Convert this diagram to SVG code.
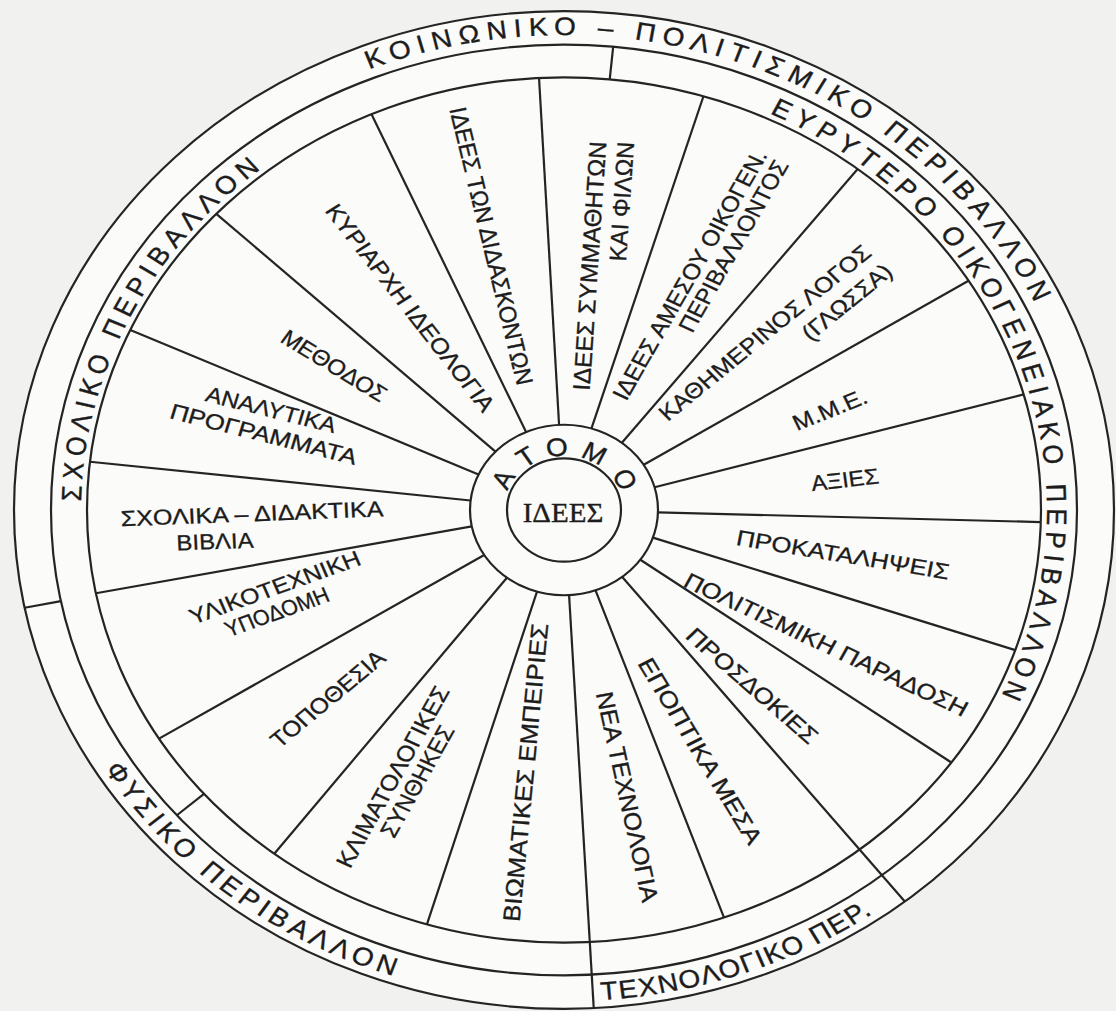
<svg xmlns="http://www.w3.org/2000/svg" width="1116" height="1011" viewBox="0 0 1116 1011">
<style>
.ln{stroke:#242424;stroke-width:2.2;fill:none;vector-effect:non-scaling-stroke}
.lb{font-family:"Liberation Sans",Arial,sans-serif;font-size:24px;fill:#1c1c1c;stroke:#1c1c1c;stroke-width:0.35;text-anchor:middle}
.rg{font-family:"Liberation Sans",Arial,sans-serif;font-size:28px;fill:#1c1c1c;stroke:#1c1c1c;stroke-width:0.4;text-anchor:middle}
</style>
<defs>
<path id="pOuterTop" d="M -392.1 -346.9 A 523.5 523.5 0 0 1 523.3 13.7"/>
<path id="pMidLeft" d="M -402.8 266.6 A 483 483 0 0 1 -29.5 -482.1"/>
<path id="pMidRight" d="M 4.2 -483 A 483 483 0 0 1 307.2 372.7"/>
<path id="pBotLeft" d="M -529.6 112.6 A 541.5 541.5 0 0 0 18.9 541.2"/>
<path id="pBotRight" d="M -99.6 532.3 A 541.5 541.5 0 0 0 411.2 352.4"/>
</defs>
<rect width="1116" height="1011" fill="#f1f1ef"/>
<g transform="translate(564,510) scale(1,0.907)">
  <g id="rings">
    <circle class="ln" r="550" style="fill:#fbfbfa"/>
    <circle class="ln" r="513"/>
    <circle class="ln" r="477"/>
  </g>
  <g id="connectors">
    <line class="ln" x1="-4.92" y1="-93.87" x2="-24.97" y2="-476.35"/>
    <line class="ln" x1="27.48" y1="-89.89" x2="139.46" y2="-456.16"/>
    <line class="ln" x1="57.87" y1="-74.07" x2="293.67" y2="-375.88"/>
    <line class="ln" x1="79.72" y1="-49.81" x2="404.52" y2="-252.77"/>
    <line class="ln" x1="90.58" y1="-25.12" x2="459.65" y2="-127.47"/>
    <line class="ln" x1="93.96" y1="2.62" x2="476.81" y2="13.32"/>
    <line class="ln" x1="88.93" y1="30.45" x2="451.28" y2="154.51"/>
    <line class="ln" x1="76.34" y1="54.85" x2="387.36" y2="278.35"/>
    <line class="ln" x1="58.25" y1="73.78" x2="340.82" y2="431.67"/>
    <line class="ln" x1="31.53" y1="88.55" x2="160.01" y2="449.36"/>
    <line class="ln" x1="5.08" y1="93.86" x2="29.74" y2="549.2"/>
    <line class="ln" x1="-27.01" y1="90.04" x2="-137.07" y2="456.88"/>
    <line class="ln" x1="-57.09" y1="74.67" x2="-289.72" y2="378.93"/>
    <line class="ln" x1="-79.8" y1="49.67" x2="-404.96" y2="252.07"/>
    <line class="ln" x1="-92.24" y1="18.1" x2="-468.08" y2="91.83"/>
    <line class="ln" x1="-93.41" y1="-10.48" x2="-474.03" y2="-53.17"/>
    <line class="ln" x1="-85.47" y1="-39.13" x2="-433.71" y2="-198.57"/>
    <line class="ln" x1="-68.52" y1="-64.35" x2="-347.72" y2="-326.53"/>
    <line class="ln" x1="-37.93" y1="-86.01" x2="-192.49" y2="-436.44"/>
    <line class="ln" x1="-503.05" y1="100.52" x2="-539.34" y2="107.77"/>
    <line class="ln" x1="-360" y1="312.94" x2="-387.17" y2="336.56"/>
    <line class="ln" x1="45.72" y1="-474.8" x2="49.17" y2="-510.64"/>
  </g>
  <g id="ring-labels">
    <g id="koinoniko"><text class="rg" letter-spacing="6.9"><textPath href="#pOuterTop" startOffset="50%">ΚΟΙΝΩΝΙΚΟ – ΠΟΛΙΤΙΣΜΙΚΟ ΠΕΡΙΒΑΛΛΟΝ</textPath></text></g>
    <g id="scholiko"><text class="rg" letter-spacing="6.4"><textPath href="#pMidLeft" startOffset="50%">ΣΧΟΛΙΚΟ ΠΕΡΙΒΑΛΛΟΝ</textPath></text></g>
    <g id="evrytero"><text class="rg" letter-spacing="6.5"><textPath href="#pMidRight" startOffset="50%">ΕΥΡΥΤΕΡΟ ΟΙΚΟΓΕΝΕΙΑΚΟ ΠΕΡΙΒΑΛΛΟΝ</textPath></text></g>
    <g id="fysiko"><text class="rg" letter-spacing="5.1"><textPath href="#pBotLeft" startOffset="50%">ΦΥΣΙΚΟ ΠΕΡΙΒΑΛΛΟΝ</textPath></text></g>
    <g id="technologiko"><text class="rg" font-size="27" letter-spacing="1.5"><textPath href="#pBotRight" startOffset="50%">ΤΕΧΝΟΛΟΓΙΚΟ ΠΕΡ.</textPath></text></g>
  </g>
  <g id="center">
    <circle class="ln" r="94" style="fill:#fbfbfa"/>
    <circle class="ln" r="57"/>
    <g id="atomo">
      <text class="rg" font-size="25" transform="translate(-60.3,-33.5) rotate(299)" y="9">Α</text>
      <text class="rg" font-size="25" transform="translate(-37.6,-57.9) rotate(327)" y="9">Τ</text>
      <text class="rg" font-size="25" transform="translate(-7.2,-68.6) rotate(354)" y="9">Ο</text>
      <text class="rg" font-size="25" transform="translate(30.2,-62) rotate(26)" y="9">Μ</text>
      <text class="rg" font-size="25" transform="translate(60.3,-33.5) rotate(61)" y="9">Ο</text>
    </g>
    <text x="-1" y="13" font-family="'Liberation Serif','Times New Roman',serif" font-size="29" fill="#1c1c1c" stroke="#1c1c1c" stroke-width="0.4" text-anchor="middle">ΙΔΕΕΣ</text>
  </g>
  <g id="sector-labels">
    <g id="s-symmathites"><text class="lb" transform="translate(26,-269) rotate(-86.5)" y="8" textLength="275" lengthAdjust="spacingAndGlyphs">ΙΔΕΕΣ ΣΥΜΜΑΘΗΤΩΝ</text><text class="lb" transform="translate(58,-340) rotate(-86.5)" y="8" textLength="132" lengthAdjust="spacingAndGlyphs">ΚΑΙ ΦΙΛΩΝ</text></g>
    <g id="s-amesou"><text class="lb" transform="translate(126,-259.1) rotate(-62.5)" y="8" textLength="307" lengthAdjust="spacingAndGlyphs">ΙΔΕΕΣ ΑΜΕΣΟΥ ΟΙΚΟΓΕΝ.</text><text class="lb" transform="translate(169.7,-291) rotate(-62.5)" y="8" textLength="210" lengthAdjust="spacingAndGlyphs">ΠΕΡΙΒΑΛΛΟΝΤΟΣ</text></g>
    <g id="s-kathimerinos"><text class="lb" transform="translate(201,-195.2) rotate(-42)" y="8" textLength="276" lengthAdjust="spacingAndGlyphs">ΚΑΘΗΜΕΡΙΝΟΣ ΛΟΓΟΣ</text><text class="lb" transform="translate(283,-229) rotate(-42)" y="8" textLength="112" lengthAdjust="spacingAndGlyphs">(ΓΛΩΣΣΑ)</text></g>
    <g id="s-mme"><text class="lb" transform="translate(266,-110.3) rotate(-23.8)" y="8" textLength="79" lengthAdjust="spacingAndGlyphs">Μ.Μ.Ε.</text></g>
    <g id="s-axies"><text class="lb" transform="translate(281,-33.1) rotate(-7)" y="8" textLength="68" lengthAdjust="spacingAndGlyphs">ΑΞΙΕΣ</text></g>
    <g id="s-prokatalipseis"><text class="lb" transform="translate(279,49.6) rotate(10.2)" y="8" textLength="216" lengthAdjust="spacingAndGlyphs">ΠΡΟΚΑΤΑΛΗΨΕΙΣ</text></g>
    <g id="s-paradosi"><text class="lb" transform="translate(262,148.8) rotate(27.3)" y="8" textLength="316" lengthAdjust="spacingAndGlyphs">ΠΟΛΙΤΙΣΜΙΚΗ ΠΑΡΑΔΟΣΗ</text></g>
    <g id="s-prosdokies"><text class="lb" transform="translate(188,194) rotate(43.7)" y="8" textLength="172" lengthAdjust="spacingAndGlyphs">ΠΡΟΣΔΟΚΙΕΣ</text></g>
    <g id="s-epoptika"><text class="lb" transform="translate(136,266) rotate(61)" y="8" textLength="231" lengthAdjust="spacingAndGlyphs">ΕΠΟΠΤΙΚΑ ΜΕΣΑ</text></g>
    <g id="s-nea-technologia"><text class="lb" transform="translate(63,316.4) rotate(78.6)" y="8" textLength="236" lengthAdjust="spacingAndGlyphs">ΝΕΑ ΤΕΧΝΟΛΟΓΙΑ</text></g>
    <g id="s-viomatikes"><text class="lb" transform="translate(-38.1,289.5) rotate(-85)" y="8" textLength="330" lengthAdjust="spacingAndGlyphs">ΒΙΩΜΑΤΙΚΕΣ ΕΜΠΕΙΡΙΕΣ</text></g>
    <g id="s-klimatologikes"><text class="lb" transform="translate(-171,294.4) rotate(-63)" y="8" textLength="221" lengthAdjust="spacingAndGlyphs">ΚΛΙΜΑΤΟΛΟΓΙΚΕΣ</text><text class="lb" transform="translate(-146.5,299.1) rotate(-63)" y="8" textLength="135" lengthAdjust="spacingAndGlyphs">ΣΥΝΘΗΚΕΣ</text></g>
    <g id="s-topothesia"><text class="lb" transform="translate(-236,208.4) rotate(-42.3)" y="8" textLength="146" lengthAdjust="spacingAndGlyphs">ΤΟΠΟΘΕΣΙΑ</text></g>
    <g id="s-ylikotechniki"><text class="lb" transform="translate(-289.1,85.6) rotate(-21.5)" y="8" textLength="182" lengthAdjust="spacingAndGlyphs">ΥΛΙΚΟΤΕΧΝΙΚΗ</text><text class="lb" transform="translate(-286.9,112.7) rotate(-21.5)" y="8" textLength="110" lengthAdjust="spacingAndGlyphs">ΥΠΟΔΟΜΗ</text></g>
    <g id="s-vivlia"><text class="lb" transform="translate(-312,4.4) rotate(-2.4)" y="8" textLength="263" lengthAdjust="spacingAndGlyphs">ΣΧΟΛΙΚΑ – ΔΙΔΑΚΤΙΚΑ</text><text class="lb" transform="translate(-349,35) rotate(-2.4)" y="8" textLength="77" lengthAdjust="spacingAndGlyphs">ΒΙΒΛΙΑ</text></g>
    <g id="s-analytika"><text class="lb" transform="translate(-293,-110.3) rotate(15.5)" y="8" textLength="134" lengthAdjust="spacingAndGlyphs">ΑΝΑΛΥΤΙΚΑ</text><text class="lb" transform="translate(-300.5,-83.3) rotate(15.5)" y="8" textLength="193" lengthAdjust="spacingAndGlyphs">ΠΡΟΓΡΑΜΜΑΤΑ</text></g>
    <g id="s-methodos"><text class="lb" transform="translate(-230,-158.8) rotate(33.9)" y="8" textLength="122" lengthAdjust="spacingAndGlyphs">ΜΕΘΟΔΟΣ</text></g>
    <g id="s-kyriarchi"><text class="lb" transform="translate(-154,-222.7) rotate(54.7)" y="8" textLength="274" lengthAdjust="spacingAndGlyphs">ΚΥΡΙΑΡΧΗ ΙΔΕΟΛΟΓΙΑ</text></g>
    <g id="s-didaskonton"><text class="lb" transform="translate(-73,-291) rotate(77.5)" y="8" textLength="313" lengthAdjust="spacingAndGlyphs">ΙΔΕΕΣ ΤΩΝ ΔΙΔΑΣΚΟΝΤΩΝ</text></g>
  </g>
</g>
</svg>
